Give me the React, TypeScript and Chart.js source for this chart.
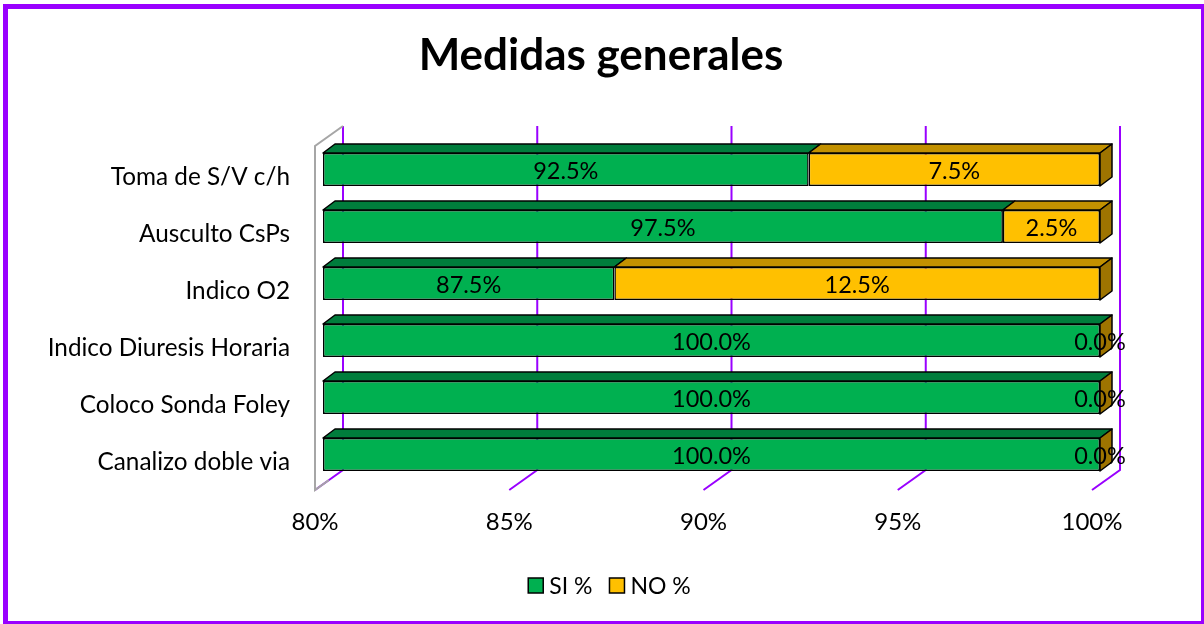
import React, { useEffect, useRef } from "react";
import { Chart, registerables } from "chart.js";

Chart.register(...registerables);

// ---- data ----
const categories = [
  "Toma de S/V c/h",
  "Ausculto CsPs",
  "Indico O2",
  "Indico Diuresis Horaria",
  "Coloco Sonda Foley",
  "Canalizo doble via",
];
const siValues = [92.5, 97.5, 87.5, 100, 100, 100];
const noValues = [7.5, 2.5, 12.5, 0, 0, 0];
const seriesLabels = ["SI %", "NO %"];
const chartTitle = "Medidas generales";
const xMin = 80;
const xMax = 100;
const xStep = 5;

// ---- styles ----
const FONT = "Lato, 'Noto Sans', sans-serif";
const PURPLE = "#9900FF";
const GREEN = "#00B050";
const GREEN_TOP = "#007D3C";
const GOLD = "#FFC000";
const GOLD_TOP = "#C39100";
const GOLD_SIDE = "#9E7400";
const DEPTH_X = 12;
const DEPTH_Y = 9;
const WALL_DX = 28;
const WALL_DY = 20;
const GRID_SHIFT = 20;

const topColors = [GREEN_TOP, GOLD_TOP];

const framePlugin = {
  id: "frame",
  beforeDraw(chart: any) {
    const ctx = chart.ctx;
    ctx.save();
    ctx.fillStyle = "#ffffff";
    ctx.fillRect(0, 0, chart.width, chart.height);
    ctx.restore();
  },
  beforeDatasetsDraw(chart: any) {
    const ctx = chart.ctx;
    const xs = chart.scales.x;
    const area = chart.chartArea;
    const backTop = area.top - 15;
    const backBottom = area.bottom - 13;
    const frontBottom = backBottom + WALL_DY;
    ctx.save();
    ctx.lineWidth = 2;
    ctx.strokeStyle = PURPLE;
    for (let v = xMin; v <= xMax; v += xStep) {
      const bx = xs.getPixelForValue(v) + GRID_SHIFT;
      ctx.beginPath();
      ctx.moveTo(bx, backTop);
      ctx.lineTo(bx, backBottom);
      ctx.lineTo(bx - WALL_DX, frontBottom);
      ctx.stroke();
    }
    // left wall
    const bx0 = xs.getPixelForValue(xMin) + GRID_SHIFT;
    const fx0 = bx0 - WALL_DX;
    ctx.strokeStyle = "#A6A6A6";
    ctx.beginPath();
    ctx.moveTo(bx0, backTop);
    ctx.lineTo(fx0, backTop + WALL_DY);
    ctx.lineTo(fx0, frontBottom);
    ctx.lineTo(fx0 + 14, frontBottom - 10);
    ctx.stroke();
    ctx.restore();
  },
  afterDatasetsDraw(chart: any) {
    const ctx = chart.ctx;
    const metas = [chart.getDatasetMeta(0), chart.getDatasetMeta(1)];
    ctx.save();
    ctx.lineWidth = 1.5;
    ctx.strokeStyle = "#000";
    ctx.lineJoin = "round";
    for (let i = 0; i < categories.length; i++) {
      let lastRight = 0;
      let top = 0;
      let bottom = 0;
      metas.forEach((meta: any, d: number) => {
        const el = meta.data[i];
        const p = el.getProps(["x", "y", "base", "height"], true);
        const left = Math.min(p.x, p.base);
        const right = Math.max(p.x, p.base);
        top = p.y - p.height / 2;
        bottom = p.y + p.height / 2;
        lastRight = right;
        if (right - left > 0.5) {
          ctx.beginPath();
          ctx.moveTo(left, top);
          ctx.lineTo(left + DEPTH_X, top - DEPTH_Y);
          ctx.lineTo(right + DEPTH_X, top - DEPTH_Y);
          ctx.lineTo(right, top);
          ctx.closePath();
          ctx.fillStyle = topColors[d];
          ctx.fill();
          ctx.stroke();
        }
      });
      // right side face
      ctx.beginPath();
      ctx.moveTo(lastRight, top);
      ctx.lineTo(lastRight + DEPTH_X, top - DEPTH_Y);
      ctx.lineTo(lastRight + DEPTH_X, bottom - DEPTH_Y);
      ctx.lineTo(lastRight, bottom);
      ctx.closePath();
      ctx.fillStyle = GOLD_SIDE;
      ctx.fill();
      ctx.stroke();
    }
    // data labels
    ctx.fillStyle = "#000";
    ctx.font = `23.5px ${FONT}`;
    ctx.textAlign = "center";
    ctx.textBaseline = "middle";
    metas.forEach((meta: any, d: number) => {
      const vals = chart.data.datasets[d].data;
      meta.data.forEach((el: any, i: number) => {
        const p = el.getProps(["x", "y", "base"], true);
        ctx.fillText(`${Number(vals[i]).toFixed(1)}%`, (p.x + p.base) / 2, p.y + 2);
      });
    });
    ctx.restore();
  },
  afterDraw(chart: any) {
    const ctx = chart.ctx;
    ctx.save();
    // title
    ctx.fillStyle = "#000";
    ctx.font = `bold 44px ${FONT}`;
    ctx.textAlign = "center";
    ctx.textBaseline = "alphabetic";
    ctx.fillText(chartTitle, 601, 70);
    // legend
    ctx.font = `23px ${FONT}`;
    ctx.textBaseline = "middle";
    ctx.textAlign = "left";
    const box = 15;
    const gapBox = 6;
    const gapItem = 17;
    const ds = chart.data.datasets;
    const widths = ds.map((d: any) => box + gapBox + ctx.measureText(d.label).width);
    const total = widths.reduce((a: number, b: number) => a + b, 0) + gapItem * (ds.length - 1);
    let x = 609.5 - total / 2;
    const cy = 585.5;
    ds.forEach((d: any, k: number) => {
      ctx.fillStyle = d.backgroundColor;
      ctx.fillRect(x, cy - box / 2, box, box);
      ctx.lineWidth = 1.5;
      ctx.strokeStyle = "#000";
      ctx.strokeRect(x, cy - box / 2, box, box);
      ctx.fillStyle = "#000";
      ctx.fillText(d.label, x + box + gapBox, cy + 1);
      x += widths[k] + gapItem;
    });
    // outer border
    ctx.lineWidth = 5;
    ctx.strokeStyle = PURPLE;
    ctx.strokeRect(5.5, 6.5, 1198, 617);
    ctx.restore();
  },
};

export default function App() {
  const ref = useRef<HTMLCanvasElement | null>(null);
  useEffect(() => {
    if (!ref.current) return;
    const barPct = 33 / 57;
    const chart = new Chart(ref.current, {
      type: "bar",
      data: {
        labels: categories,
        datasets: [
          {
            label: seriesLabels[0],
            data: siValues,
            backgroundColor: GREEN,
            borderColor: "#000",
            borderWidth: 1.5,
            borderSkipped: false,
            base: xMin,
            barPercentage: 1,
            categoryPercentage: barPct,
          } as any,
          {
            label: seriesLabels[1],
            data: noValues,
            backgroundColor: GOLD,
            borderColor: "#000",
            borderWidth: 1.5,
            borderSkipped: false,
            barPercentage: 1,
            categoryPercentage: barPct,
          } as any,
        ],
      },
      options: {
        indexAxis: "y",
        responsive: false,
        animation: false,
        devicePixelRatio: 1,
        layout: { padding: { top: 141, right: 104, bottom: 0, left: 0 } },
        plugins: {
          legend: { display: false },
          title: { display: false },
          tooltip: { enabled: false },
        },
        scales: {
          x: {
            type: "linear",
            min: xMin,
            max: xMax,
            stacked: true,
            grid: { display: false, drawTicks: false },
            border: { display: false },
            ticks: {
              stepSize: xStep,
              callback: (v: any) => `${v}%`,
              font: { family: FONT, size: 24 },
              color: "#000",
              labelOffset: -8,
              padding: 25,
              maxRotation: 0,
            },
            afterFit: (s: any) => {
              s.height = 141;
            },
          },
          y: {
            stacked: true,
            grid: { display: false, drawTicks: false },
            border: { display: false },
            ticks: {
              font: { family: FONT, size: 24.3 },
              color: "#000",
              padding: 33,
              labelOffset: 8,
            },
            afterFit: (s: any) => {
              s.width = 323;
            },
          },
        },
      } as any,
      plugins: [framePlugin],
    });
    return () => chart.destroy();
  }, []);
  return (
    <div style={{ position: "fixed", left: 0, top: 0, width: 1204, height: 624, background: "#fff" }}>
      <canvas ref={ref} width={1204} height={624} style={{ display: "block", width: 1204, height: 624 }} />
    </div>
  );
}
